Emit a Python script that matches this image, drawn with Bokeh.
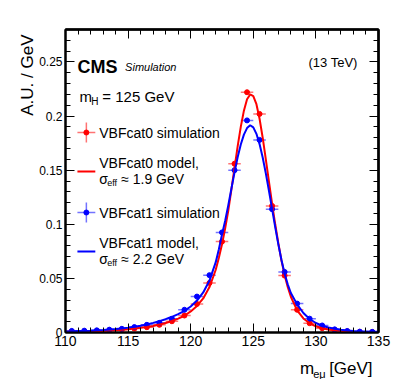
from bokeh.plotting import figure
from bokeh.models import Range1d, FixedTicker, LinearAxis, Label, ColumnDataSource
from bokeh.layouts import row, column
from bokeh.embed import file_html
from bokeh.resources import INLINE

# ---------------- data ----------------
bin_centers = [110.5, 111.5, 112.5, 113.5, 114.5, 115.5, 116.5, 117.5, 118.5, 119.5,
               120.5, 121.5, 122.5, 123.5, 124.5, 125.5, 126.5, 127.5, 128.5, 129.5,
               130.5, 131.5, 132.5, 133.5, 134.5]
bin_half_width = 0.5
cat0_sim = [0.0009, 0.0011, 0.0015, 0.0020, 0.0027, 0.0036, 0.0049, 0.0071, 0.0104, 0.0157,
            0.0264, 0.0458, 0.0840, 0.1560, 0.2220, 0.2020, 0.1170, 0.0526, 0.0210, 0.0086,
            0.0040, 0.0019, 0.0011, 0.0006, 0.0004]
cat1_sim = [0.0015, 0.0017, 0.0020, 0.0026, 0.0034, 0.0050, 0.0071, 0.0089, 0.0126, 0.0210,
            0.0332, 0.0530, 0.0925, 0.1500, 0.1960, 0.1780, 0.1140, 0.0560, 0.0267, 0.0128,
            0.0065, 0.0029, 0.0014, 0.0008, 0.0006]

model_mass = [110.0, 110.5, 111.0, 111.5, 112.0, 112.5, 113.0, 113.5, 114.0, 114.5,
              115.0, 115.5, 116.0, 116.5, 117.0, 117.5, 118.0, 118.5, 119.0, 119.5,
              120.0, 120.5, 121.0, 121.5, 122.0,
              122.25, 122.5, 122.75, 123.0, 123.25, 123.5, 123.75, 124.0, 124.25, 124.5,
              124.75, 125.0, 125.25, 125.5, 125.75, 126.0, 126.25, 126.5, 126.75, 127.0,
              127.25, 127.5, 127.75, 128.0,
              128.5, 129.0, 129.5, 130.0, 130.5, 131.0, 131.5, 132.0, 132.5, 133.0,
              133.5, 134.0, 134.5, 135.0]
cat0_model = [0.0006, 0.0007, 0.0008, 0.0009, 0.0011, 0.0013, 0.0015, 0.0018, 0.0021, 0.0025,
              0.0030, 0.0036, 0.0043, 0.0051, 0.0061, 0.0073, 0.0088, 0.0106, 0.0128, 0.0155,
              0.0195, 0.0245, 0.0315, 0.0420, 0.0580,
              0.0690, 0.0815, 0.0960, 0.1125, 0.1320, 0.1520, 0.1720, 0.1900, 0.2050, 0.2155,
              0.2200, 0.2185, 0.2110, 0.1975, 0.1800, 0.1600, 0.1395, 0.1190, 0.1000, 0.0825,
              0.0665, 0.0530, 0.0420, 0.0330,
              0.0205, 0.0130, 0.0085, 0.0058, 0.0040, 0.0028, 0.0020, 0.0014, 0.0010, 0.0007,
              0.0005, 0.0004, 0.0003, 0.0002]
cat1_model = [0.0010, 0.0011, 0.0013, 0.0015, 0.0017, 0.0020, 0.0023, 0.0027, 0.0032, 0.0038,
              0.0045, 0.0053, 0.0063, 0.0075, 0.0089, 0.0105, 0.0123, 0.0145, 0.0170, 0.0200,
              0.0240, 0.0295, 0.0370, 0.0480, 0.0650,
              0.0770, 0.0905, 0.1030, 0.1175, 0.1328, 0.1480, 0.1619, 0.1737, 0.1829, 0.1889,
              0.1915, 0.1895, 0.1836, 0.1741, 0.1617, 0.1470, 0.1310, 0.1142, 0.0974, 0.0814,
              0.0670, 0.0545, 0.0445, 0.0365,
              0.0260, 0.0180, 0.0125, 0.0088, 0.0063, 0.0046, 0.0034, 0.0025, 0.0019, 0.0014,
              0.0011, 0.0009, 0.0007, 0.0006]

x_ticks = [110, 115, 120, 125, 130, 135]
x_minor = list(range(110, 136))
y_ticks = [0, 0.05, 0.1, 0.15, 0.2, 0.25]
y_tick_labels = ["0", "0.05", "0.1", "0.15", "0.2", "0.25"]
y_minor = [i / 100 for i in range(0, 29)]

RED = "#ff0000"
BLUE = "#0000ff"
FONT = "Liberation Sans"

X0, X1, Y0, Y1 = 110, 135, 0.0, 0.28
# page geometry of the frame (for placing annotations)
FL, FR, FT, FB = 63, 378, 29, 332
YFIG_W = 36           # strip holding the y-axis title
TOTAL_W, TOTAL_H = 391, 379
MAIN_H = 354


def px2x(px):
    return X0 + (px - FL) * (X1 - X0) / (FR - FL)


def py2y(py):
    return Y0 + (FB - py) * (Y1 - Y0) / (FB - FT)


p = figure(width=TOTAL_W - YFIG_W, height=MAIN_H, output_backend="svg", toolbar_location=None,
           x_range=Range1d(X0, X1), y_range=Range1d(Y0, Y1),
           min_border_left=FL - YFIG_W, min_border_right=TOTAL_W - FR,
           min_border_top=FT, min_border_bottom=MAIN_H - FB)
p.xgrid.visible = False
p.ygrid.visible = False
p.outline_line_color = "black"
p.outline_line_width = 2
p.background_fill_color = "white"
p.border_fill_color = "white"


def style_axis(ax, ticker, size="12px", standoff=3):
    ax.ticker = ticker
    ax.axis_line_color = "black"
    ax.axis_line_width = 2
    ax.major_tick_in = 9
    ax.major_tick_out = 0
    ax.minor_tick_in = 5
    ax.minor_tick_out = 0
    ax.major_tick_line_color = "black"
    ax.minor_tick_line_color = "black"
    ax.major_tick_line_width = 1
    ax.minor_tick_line_width = 1
    ax.major_label_standoff = standoff
    ax.major_label_text_font = FONT
    ax.major_label_text_color = "black"
    ax.major_label_text_font_size = size


style_axis(p.xaxis[0], FixedTicker(ticks=x_ticks, minor_ticks=x_minor), size="14px")
style_axis(p.yaxis[0], FixedTicker(ticks=y_ticks, minor_ticks=y_minor), size="12px")
p.yaxis[0].major_label_overrides = {t: s for t, s in zip(y_ticks, y_tick_labels)}


def mirror_axis(place, majors, minors):
    # two label-free axes: one for minor ticks, one for the longer major ticks
    for tick_pos, length in ((minors, 5), (majors, 9)):
        ax = LinearAxis(ticker=FixedTicker(ticks=[], minor_ticks=tick_pos))
        ax.axis_line_color = "black"
        ax.axis_line_width = 2
        ax.major_tick_in = 0
        ax.major_tick_out = 0
        ax.minor_tick_in = length
        ax.minor_tick_out = 0
        ax.minor_tick_line_color = "black"
        ax.major_label_standoff = 0
        p.add_layout(ax, place)


mirror_axis("above", x_ticks, x_minor)
mirror_axis("right", y_ticks, y_minor)

# ---------------- data points ----------------
src0 = ColumnDataSource(dict(x=bin_centers, y=cat0_sim,
                             x0=[c - bin_half_width for c in bin_centers],
                             x1=[c + bin_half_width for c in bin_centers]))
src1 = ColumnDataSource(dict(x=bin_centers, y=cat1_sim,
                             x0=[c - bin_half_width for c in bin_centers],
                             x1=[c + bin_half_width for c in bin_centers]))

for src, col in ((src0, RED), (src1, BLUE)):
    p.segment(x0="x0", x1="x1", y0="y", y1="y", source=src, line_color=col,
              line_width=1.5, line_alpha=0.55)
    p.scatter(x="x", y="y", source=src, marker="circle", size=5,
              fill_color=col, line_color=col)

p.line(model_mass, cat0_model, line_color=RED, line_width=2)
p.line(model_mass, cat1_model, line_color=BLUE, line_width=2)


# ---------------- texts inside the frame ----------------
def lab(fig, x, y, text, size, align="left", baseline="middle", style="normal", angle=0.0):
    fig.add_layout(Label(x=x, y=y, text=text, text_font=FONT, text_font_size=size,
                         text_align=align, text_baseline=baseline,
                         text_font_style=style, angle=angle, text_color="black"))


def plab(px, py, text, size, **kw):
    lab(p, px2x(px), py2y(py), text, size, **kw)


plab(75, 66, "CMS", "18px", baseline="alphabetic", style="bold")
plab(123, 66, "Simulation", "11px", baseline="alphabetic", style="italic")
plab(357, 62, "(13 TeV)", "13px", align="right")

# m_H = 125 GeV
plab(77, 96, "m", "15px")
plab(89, 101, "H", "10px")
plab(100, 96, "= 125 GeV", "15px")

# legend
legend_rows = [
    (RED, 132, 171, "VBFcat0 simulation", "VBFcat0 model,", "\u2248 1.9 GeV"),
    (BLUE, 212, 251, "VBFcat1 simulation", "VBFcat1 model,", "\u2248 2.2 GeV"),
]
for col, ysim, ymod, t_sim, t_mod, t_sig in legend_rows:
    p.segment(x0=[px2x(75)], x1=[px2x(93)], y0=[py2y(ysim)], y1=[py2y(ysim)],
              line_color=col, line_width=1.5, line_alpha=0.55)
    p.segment(x0=[px2x(84)], x1=[px2x(84)], y0=[py2y(ysim - 10)], y1=[py2y(ysim + 10)],
              line_color=col, line_width=1.5, line_alpha=0.55)
    p.scatter(x=[px2x(84)], y=[py2y(ysim)], marker="circle", size=5,
              fill_color=col, line_color=col)
    plab(97, ysim, t_sim, "14px")
    p.segment(x0=[px2x(75)], x1=[px2x(93)], y0=[py2y(ymod)], y1=[py2y(ymod)],
              line_color=col, line_width=2)
    plab(97, ymod - 9, t_mod, "14px")
    plab(97, ymod + 7, "\u03c3", "14px")
    plab(105, ymod + 11, "eff", "9px")
    plab(119, ymod + 7, t_sig, "14px")


# ---------------- axis titles (own strips, page-pixel coordinates) ----------------
def strip(w, h, x_lo, y_lo):
    f = figure(width=w, height=h, output_backend="svg", toolbar_location=None,
               x_range=Range1d(x_lo, x_lo + w), y_range=Range1d(y_lo + h, y_lo),
               x_axis_type=None, y_axis_type=None,
               min_border=0, min_border_left=0, min_border_right=0,
               min_border_top=0, min_border_bottom=0)
    f.outline_line_color = None
    f.background_fill_color = "white"
    f.border_fill_color = "white"
    f.xgrid.visible = False
    f.ygrid.visible = False
    return f


yfig = strip(YFIG_W, TOTAL_H, 0, 0)
lab(yfig, 27, 34, "A.U. / GeV", "17px", align="right", angle=1.5707963267948966)

xfig = strip(TOTAL_W - YFIG_W, TOTAL_H - MAIN_H, YFIG_W, MAIN_H)
lab(xfig, 302, 368, "m", "17px")
lab(xfig, 317, 373, "e\u03bc", "11px")
lab(xfig, 335, 368, "[GeV]", "17px")

layout = row(yfig, column(p, xfig, spacing=0), spacing=0)

open("out.html", "w").write(file_html(layout, INLINE))
